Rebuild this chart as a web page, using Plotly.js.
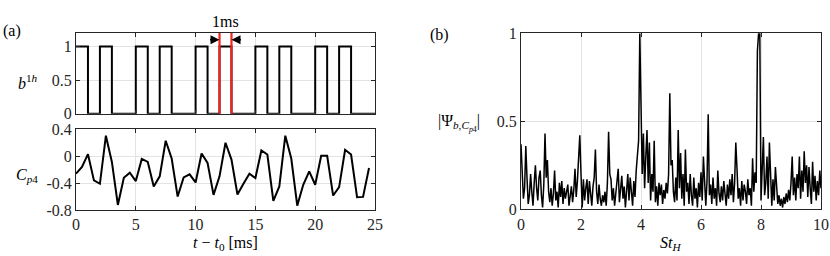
<!DOCTYPE html>
<html>
<head>
<meta charset="utf-8">
<script src="https://cdn.plot.ly/plotly-3.0.1.min.js"></script>
<style>html,body{margin:0;padding:0;background:#fff;}#chart{width:830px;height:256px;}</style>
</head>
<body>
<div id="chart"></div>
<script>
// ---- data ----
const bTime = [0,1,2,3,4,5,6,7,8,9,10,11,12,13,14,15,16,17,18,19,20,21,22,23,24,25];
const bValue = [1,0,1,0,0, 1,0,1,0,0, 1,0,1,0,0, 1,0,1,0,0, 1,0,1,0,0, 0];
const markTimes = [12, 13];
const markLabel = '1ms';

const cpStart = 0, cpStep = 0.5;
const cpValue = [-0.26,-0.16,0.03,-0.36,-0.41,0.305,-0.085,-0.725,-0.32,-0.245,
  -0.37,-0.04,-0.085,-0.45,-0.30,0.23,-0.035,-0.60,-0.315,-0.27,
  -0.39,0.04,-0.10,-0.575,-0.30,0.20,-0.05,-0.57,-0.41,-0.26,
  -0.325,0.085,0.025,-0.665,-0.45,0.305,-0.035,-0.735,-0.425,-0.225,
  -0.425,0.005,0.005,-0.585,-0.46,0.095,0.025,-0.61,-0.605,-0.175];

const stStart = 0, stStep = 0.04;
const psiValue = [
  0.37,0.22,0.06,0.12,0.36,0.18,0.03,0.08,0.2,0.1,0.02,0.15,0.25,0.12,0.05,0.18,0.22,0.08,0.01,0.14,0.43,0.18,0.28,0.1,0.04,
  0.12,0.02,0.09,0.22,0.05,0.1,0.01,0.15,0.07,0.16,0.03,0.12,0.06,0.1,0.14,0.02,0.08,0.13,0.04,0.11,0.23,0.07,0.16,0.33,0.42,
  0.2,0.01,0.17,0.05,0.12,0.17,0.03,0.16,0.09,0.02,0.13,0.18,0.34,0.1,0.03,0.14,0.06,0.02,0.08,0.04,0.1,0.02,0.15,0.44,0.2,
  0.17,0.05,0.12,0.02,0.08,0.15,0.23,0.04,0.1,0.19,0.06,0.13,0.01,0.09,0.2,0.05,0.18,0.1,0.02,0.16,0.07,0.22,0.34,0.39,1.0,
  0.67,0.2,0.43,0.12,0.3,0.45,0.15,0.38,0.05,0.2,0.1,0.39,0.04,0.13,0.02,0.15,0.08,0.14,0.03,0.11,0.06,0.15,0.09,0.2,0.66,
  0.25,0.28,0.1,0.04,0.18,0.05,0.45,0.12,0.32,0.06,0.2,0.02,0.34,0.1,0.15,0.03,0.2,0.08,0.02,0.18,0.06,0.12,0.01,0.15,0.07,
  0.21,0.05,0.3,0.1,0.02,0.16,0.54,0.08,0.14,0.03,0.18,0.06,0.12,0.02,0.22,0.09,0.04,0.13,0.05,0.16,0.08,0.02,0.14,0.06,0.17,
  0.08,0.2,0.04,0.15,0.38,0.23,0.06,0.12,0.02,0.16,0.05,0.14,0.1,0.03,0.17,0.08,0.12,0.02,0.29,0.1,0.21,0.15,0.9,1.0,1.0,
  0.05,0.2,0.41,0.08,0.15,0.3,0.06,0.38,0.12,0.02,0.17,0.05,0.24,0.1,0.03,0.08,0.02,0.06,0.01,0.07,0.03,0.09,0.04,0.11,0.05,
  0.15,0.3,0.08,0.18,0.05,0.2,0.12,0.3,0.06,0.22,0.1,0.33,0.15,0.25,0.07,0.24,0.12,0.03,0.27,0.1,0.19,0.05,0.16,0.08,0.22,
  0.12];

const topYTicks = [0, 0.5, 1];
const cpYTicks = [-0.8, -0.4, 0, 0.4];
const cpYTickText = ['-0.8', '-0.4', '0', '0.4'];
const tTicks = [0, 5, 10, 15, 20, 25];
const stTicks = [0, 2, 4, 6, 8, 10];
const psiTicks = [0, 0.5, 1];

// ---- styling ----
const FONT = "Liberation Serif";
const AX = '#262626';
const GRID = '#e3e3e3';
function axis(extra) {
  return Object.assign({
    showline: true, linecolor: AX, linewidth: 1, mirror: 'ticks',
    ticks: 'inside', ticklen: 4, tickcolor: AX, tickwidth: 1,
    showgrid: true, gridcolor: GRID, gridwidth: 1, zeroline: false,
    tickfont: {family: FONT, size: 16, color: '#262626'}
  }, extra);
}

const W = 830, H = 256;
const xd = (a, b) => [a / W, b / W];
const yd = (top, bot) => [1 - bot / H, 1 - top / H];

const traces = [
  {x: bTime, y: bValue, type: 'scatter', mode: 'lines', line: {shape: 'hv', color: '#000', width: 2},
   xaxis: 'x', yaxis: 'y', hoverinfo: 'skip'},
  {x0: cpStart, dx: cpStep, y: cpValue, type: 'scatter', mode: 'lines', line: {color: '#000', width: 2},
   xaxis: 'x2', yaxis: 'y2', hoverinfo: 'skip'},
  {x0: stStart, dx: stStep, y: psiValue, type: 'scatter', mode: 'lines', line: {color: '#000', width: 1.5},
   xaxis: 'x3', yaxis: 'y3', hoverinfo: 'skip'}
];

const shapes = markTimes.map(t => ({
  type: 'line', xref: 'x', yref: 'y domain', x0: t, x1: t, y0: 0, y1: 1,
  line: {color: '#f0241c', width: 2.2}, layer: 'above'
}));

const annFont = {family: FONT, size: 16, color: '#000'};
function lab(px, py, text) {
  return {xref: 'paper', yref: 'paper', x: px / W, y: 1 - py / H, text: text,
          showarrow: false, font: annFont, xanchor: 'center', yanchor: 'middle'};
}
const annotations = [
  lab(12, 31, '(a)'),
  lab(439, 35, '(b)'),
  lab(28, 82, '<i>b</i><sup>1<i>h</i></sup>'),
  lab(27, 175, '<i>C</i><sub><i>p</i>4</sub>'),
  lab(459, 123, '|Ψ<sub><i>b</i>,<i>C</i><sub><i>p</i>4</sub></sub>|'),
  lab(225, 243, '<i>t</i> − <i>t</i><sub>0</sub> [ms]'),
  lab(670, 243, '<i>St</i><sub><i>H</i></sub>'),
  {xref: 'x', yref: 'paper', x: (markTimes[0] + markTimes[1]) / 2, y: 1 - 21 / H, text: markLabel,
   showarrow: false, font: annFont, xanchor: 'center', yanchor: 'middle'},
  {xref: 'x', yref: 'y', x: markTimes[0], y: 1.1, ax: -11, ay: 0, text: '', showarrow: true,
   arrowhead: 2, arrowsize: 1.2, arrowwidth: 1.5, arrowcolor: '#000', standoff: 0},
  {xref: 'x', yref: 'y', x: markTimes[1], y: 1.1, ax: 11, ay: 0, text: '', showarrow: true,
   arrowhead: 2, arrowsize: 1.2, arrowwidth: 1.5, arrowcolor: '#000', standoff: 0}
];

const layout = {
  width: W, height: H, margin: {l: 0, r: 0, t: 0, b: 0},
  paper_bgcolor: '#fff', plot_bgcolor: '#fff', showlegend: false,
  font: {family: FONT, size: 16, color: '#000'},
  xaxis: axis({domain: xd(76, 375), range: [0, 25], tickvals: tTicks, showticklabels: false, anchor: 'y'}),
  yaxis: axis({domain: yd(33, 113.7), range: [0, 1.2], tickvals: topYTicks, anchor: 'x'}),
  xaxis2: axis({domain: xd(76, 375), range: [0, 25], tickvals: tTicks, anchor: 'y2'}),
  yaxis2: axis({domain: yd(129.3, 210), range: [-0.8, 0.4], tickvals: cpYTicks, ticktext: cpYTickText, anchor: 'x2'}),
  xaxis3: axis({domain: xd(521, 821), range: [0, 10], tickvals: stTicks, anchor: 'y3'}),
  yaxis3: axis({domain: yd(33.3, 209.3), range: [0, 1], tickvals: psiTicks, anchor: 'x3'}),
  shapes: shapes,
  annotations: annotations
};

Plotly.newPlot('chart', traces, layout, {staticPlot: true, displayModeBar: false});
</script>
</body>
</html>
